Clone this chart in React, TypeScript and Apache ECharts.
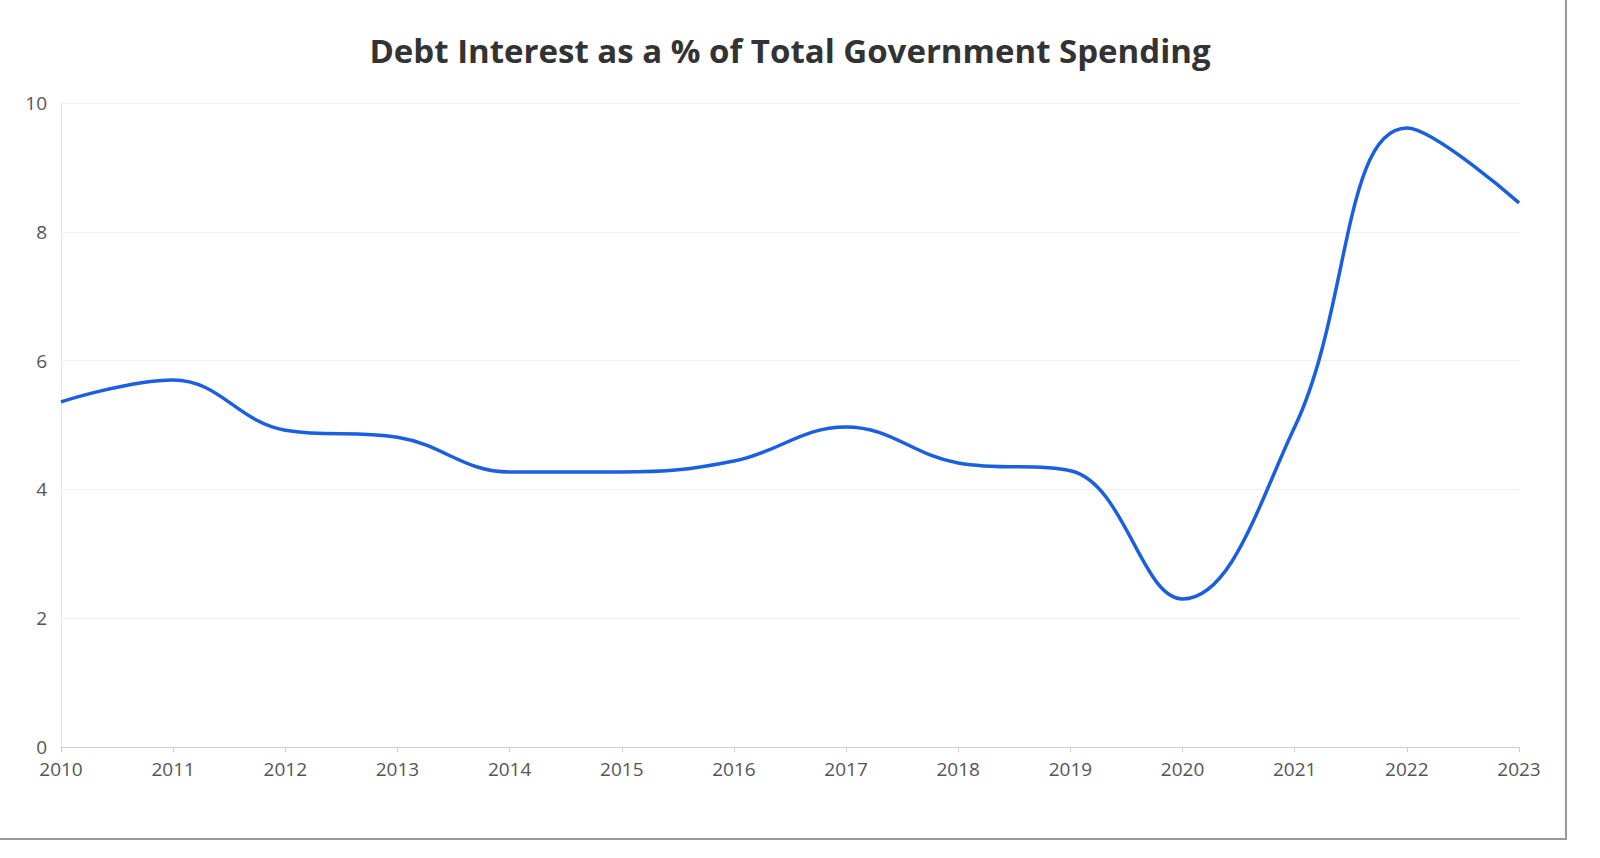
import React, { useEffect, useRef } from "react";
import * as echarts from "echarts";

const years = ["2010","2011","2012","2013","2014","2015","2016","2017","2018","2019","2020","2021","2022","2023"];
const values = [5.36, 5.7, 4.92, 4.81, 4.27, 4.27, 4.44, 4.97, 4.41, 4.29, 2.3, 4.97, 9.61, 8.45];

export default function App() {
  const ref = useRef<HTMLDivElement>(null);
  useEffect(() => {
    const chart = echarts.init(ref.current!, null, { renderer: "svg" });
    chart.setOption({
      animation: false,
      backgroundColor: "#fff",
      title: {
        text: "Debt Interest as a % of Total Government Spending",
        left: 785, textAlign: "center", top: 29,
        textStyle: { fontFamily: "Open Sans", fontWeight: "bold", fontSize: 33, color: "#333" },
      },
      graphic: [
        { type: "line", shape: { x1: 1566, y1: 0, x2: 1566, y2: 839 }, style: { stroke: "#999", lineWidth: 2 } },
        { type: "line", shape: { x1: 0, y1: 839, x2: 1567, y2: 839 }, style: { stroke: "#999", lineWidth: 2 } },
      ],
      grid: { left: 61, right: 81, top: 103, bottom: 111 },
      xAxis: {
        type: "category", data: years, boundaryGap: false,
        axisLine: { lineStyle: { color: "#ccc" } },
        axisTick: { show: true, lineStyle: { color: "#ccc" } },
        axisLabel: { color: "#555", fontSize: 19, fontFamily: "Open Sans", margin: 12 },
      },
      yAxis: {
        type: "value", min: 0, max: 10, interval: 2,
        axisLine: { show: true, lineStyle: { color: "#e6e6e6" } },
        splitLine: { lineStyle: { color: "#f0f0f0" } },
        axisLabel: { color: "#555", fontSize: 19, fontFamily: "Open Sans", margin: 14 },
      },
      series: [{
        type: "line", data: values, smooth: 0.4, showSymbol: false,
        lineStyle: { color: "#1a5fe0", width: 3.5 },
      }],
    });
    return () => chart.dispose();
  }, []);
  return (
    <div style={{ position: "fixed", left: 0, top: 0, width: 1600, height: 858, background: "#fff" }}>
      <div ref={ref} style={{ width: 1600, height: 858 }} />
    </div>
  );
}
